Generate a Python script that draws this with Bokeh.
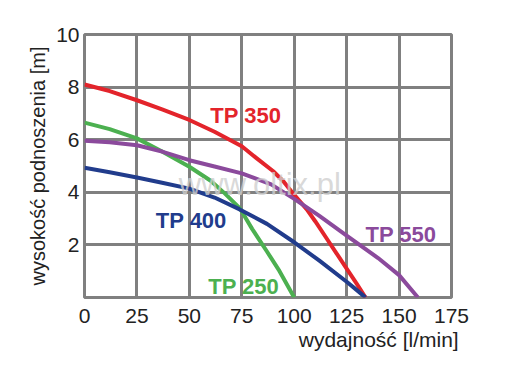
from bokeh.plotting import figure
from bokeh.models import Range1d, FixedTicker, Label, Title
from bokeh.core.properties import value
from bokeh.embed import file_html
from bokeh.resources import INLINE

# data
tp350_x = [0, 12, 25, 37, 50, 62, 75, 82, 90, 95, 100, 106, 110, 115, 120, 125, 130, 134]
tp350_y = [8.1, 7.85, 7.5, 7.15, 6.75, 6.3, 5.75, 5.3, 4.8, 4.4, 3.9, 3.35, 2.9, 2.3, 1.7, 1.1, 0.5, 0]
tp250_x = [0, 12, 25, 37, 50, 60, 67, 74, 80, 87, 93, 100]
tp250_y = [6.65, 6.4, 6.05, 5.55, 4.97, 4.45, 3.95, 3.4, 2.6, 1.75, 1.0, 0]
tp550_x = [0, 12, 25, 37, 50, 62, 75, 89, 100, 112, 125, 140, 150, 159]
tp550_y = [5.96, 5.9, 5.79, 5.55, 5.22, 4.98, 4.72, 4.3, 3.75, 3.1, 2.35, 1.5, 0.85, 0]
tp400_x = [0, 12, 25, 37, 50, 62, 74, 87, 100, 112, 125, 130, 134]
tp400_y = [4.93, 4.76, 4.56, 4.36, 4.14, 3.8, 3.35, 2.8, 2.1, 1.4, 0.6, 0.27, 0]

series_names = ["TP 350", "TP 400", "TP 250", "TP 550"]
label_x = [60, 34, 59, 134]
label_y = [6.92, 2.93, 0.42, 2.4]

x_ticks = [0, 25, 50, 75, 100, 125, 150, 175]
y_ticks = [2, 4, 6, 8, 10]
grid_y = [0, 2, 4, 6, 8, 10]

RED = "#e3242b"
GREEN = "#4cb050"
PURPLE = "#8b4a9c"
BLUE = "#213c8c"
GRID = "#808080"
FONT = "Liberation Sans"

p = figure(width=497, height=357, output_backend="svg", toolbar_location=None,
           x_range=Range1d(0, 175), y_range=Range1d(0, 10),
           min_border_left=84, min_border_right=46, min_border_top=34, min_border_bottom=60)

p.outline_line_color = GRID
p.outline_line_width = 3
p.background_fill_color = "white"

p.xaxis.ticker = FixedTicker(ticks=x_ticks)
p.yaxis.ticker = FixedTicker(ticks=y_ticks)
p.xgrid.ticker = FixedTicker(ticks=x_ticks)
p.ygrid.ticker = FixedTicker(ticks=grid_y)
for g in (p.xgrid, p.ygrid):
    g.grid_line_color = GRID
    g.grid_line_width = 3
    g.grid_line_alpha = 1.0

for ax in (p.xaxis, p.yaxis):
    ax.axis_line_color = None
    ax.major_tick_line_color = None
    ax.minor_tick_line_color = None
    ax.major_tick_out = 0
    ax.major_tick_in = 0
    ax.minor_tick_out = 0
    ax.major_label_text_font = FONT
    ax.major_label_text_font_size = "21px"
    ax.major_label_text_color = "#222222"

p.xaxis.major_label_standoff = 11
p.yaxis.major_label_standoff = 5
p.yaxis.axis_label = "wysokość podnoszenia [m]"
p.yaxis.axis_label_text_font = FONT
p.yaxis.axis_label_text_font_size = "20px"
p.yaxis.axis_label_text_font_style = "normal"
p.yaxis.axis_label_text_color = "#222222"
p.yaxis.axis_label_standoff = 4

lw = 4
p.line(tp350_x, tp350_y, line_color=RED, line_width=lw, line_join="round")
p.line(tp250_x, tp250_y, line_color=GREEN, line_width=lw, line_join="round")
p.line(tp550_x, tp550_y, line_color=PURPLE, line_width=lw, line_join="round")
p.line(tp400_x, tp400_y, line_color=BLUE, line_width=lw, line_join="round")

p.text(x=label_x, y=label_y, text=series_names,
       text_color=[RED, BLUE, GREEN, PURPLE],
       text_font=value(FONT), text_font_style="bold", text_font_size="22px",
       text_baseline="middle", text_align="left")

wm = Label(x=45, y=4.3, text="www.oltix.pl", text_font=FONT, text_font_size="31px",
           text_color="#cfcfcf", text_alpha=0.8, text_baseline="middle", text_align="left")
p.add_layout(wm)

xt = Title(text="wydajność  [l/min]", align="right", offset=-13, standoff=0,
           text_font=FONT, text_font_size="21px", text_color="#222222",
           text_font_style="normal")
p.add_layout(xt, "below")

open("out.html", "w").write(file_html(p, INLINE))
